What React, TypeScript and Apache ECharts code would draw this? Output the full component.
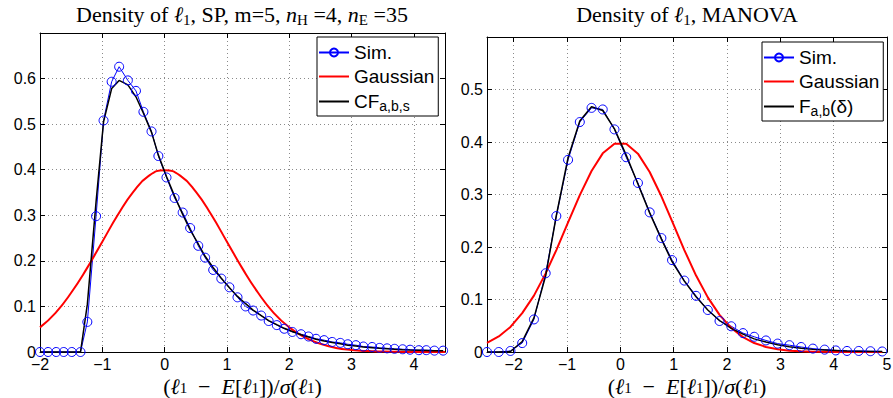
import React, { useEffect, useRef } from 'react';
import * as echarts from 'echarts';

// ---------- Left panel: SP, m=5, nH=4, nE=35 ----------
const simXL = [-2, -1.87, -1.74, -1.62, -1.49, -1.35, -1.24, -1.10, -0.98, -0.85, -0.73, -0.59, -0.46, -0.34, -0.21, -0.10, 0.03, 0.16, 0.29, 0.41, 0.54, 0.65, 0.78, 0.91, 1.04, 1.17, 1.30, 1.42, 1.55, 1.67, 1.80, 1.92, 2.05, 2.19, 2.31, 2.43, 2.56, 2.69, 2.82, 2.94, 3.07, 3.19, 3.33, 3.45, 3.57, 3.69, 3.82, 3.94, 4.08, 4.20, 4.33, 4.47];
const simYL = [0, 0, 0, 0, 0, 0, 0.066, 0.298, 0.508, 0.593, 0.626, 0.596, 0.573, 0.527, 0.484, 0.430, 0.383, 0.338, 0.306, 0.272, 0.233, 0.207, 0.180, 0.161, 0.142, 0.120, 0.100, 0.091, 0.080, 0.068, 0.059, 0.051, 0.044, 0.039, 0.034, 0.029, 0.026, 0.022, 0.020, 0.017, 0.015, 0.012, 0.011, 0.009, 0.008, 0.007, 0.006, 0.005, 0.004, 0.004, 0.003, 0.003];
const cfYL = [0, 0, 0, 0, 0, 0, 0.105, 0.330, 0.505, 0.578, 0.596, 0.586, 0.560, 0.524, 0.482, 0.432, 0.385, 0.342, 0.302, 0.268, 0.237, 0.210, 0.185, 0.162, 0.141, 0.122, 0.106, 0.092, 0.080, 0.069, 0.060, 0.052, 0.045, 0.038, 0.033, 0.028, 0.024, 0.021, 0.018, 0.015, 0.013, 0.011, 0.0095, 0.008, 0.007, 0.006, 0.005, 0.0045, 0.004, 0.0035, 0.003, 0.003];
const gaussXL = [-2, -1.75, -1.5, -1.25, -1, -0.75, -0.5, -0.25, 0, 0.25, 0.5, 0.75, 1, 1.25, 1.5, 1.75, 2, 2.25, 2.5, 2.75, 3, 3.25, 3.5, 3.75, 4, 4.25, 4.5];
const gaussYL = [0.054, 0.086, 0.130, 0.183, 0.242, 0.301, 0.352, 0.387, 0.399, 0.387, 0.352, 0.301, 0.242, 0.183, 0.130, 0.086, 0.054, 0.032, 0.018, 0.009, 0.0044, 0.002, 0.0009, 0.0004, 0.0001, 0, 0];

// ---------- Right panel: MANOVA ----------
const simXR = [-2.50, -2.28, -2.06, -1.84, -1.62, -1.40, -1.20, -0.98, -0.76, -0.54, -0.33, -0.11, 0.11, 0.33, 0.55, 0.77, 0.97, 1.20, 1.42, 1.64, 1.86, 2.08, 2.30, 2.51, 2.73, 2.95, 3.17, 3.39, 3.61, 3.83, 4.04, 4.25, 4.47, 4.69, 4.91];
const simYR = [0, 0, 0.002, 0.017, 0.062, 0.150, 0.259, 0.366, 0.438, 0.465, 0.462, 0.424, 0.371, 0.322, 0.266, 0.217, 0.175, 0.136, 0.107, 0.080, 0.059, 0.049, 0.036, 0.029, 0.022, 0.016, 0.013, 0.0095, 0.0065, 0.0045, 0.003, 0.002, 0.002, 0.0015, 0.001];
const fYR = [0, 0, 0.001, 0.020, 0.065, 0.145, 0.260, 0.370, 0.440, 0.467, 0.460, 0.425, 0.375, 0.320, 0.265, 0.215, 0.172, 0.135, 0.105, 0.080, 0.060, 0.045, 0.034, 0.025, 0.019, 0.014, 0.010, 0.007, 0.005, 0.004, 0.003, 0.002, 0.0015, 0.001, 0.001];
const gaussYR = [0.0175, 0.0297, 0.0478, 0.0741, 0.1074, 0.1497, 0.1942, 0.2468, 0.2989, 0.3448, 0.3784, 0.3967, 0.3965, 0.3778, 0.3429, 0.2966, 0.2492, 0.1942, 0.1456, 0.1040, 0.0707, 0.0459, 0.0283, 0.0171, 0.0096, 0.0051, 0.0026, 0.0013, 0.0006, 0.0003, 0.0001, 0, 0, 0, 0];

// ---------- Texts ----------
const titleLeft = '{r|Density of }{i|ℓ}{s|1}{r|, SP, m=5, }{i|n}{s|H}{r| =4, }{i|n}{s|E}{r| =35}';
const titleRight = '{r|Density of }{i|ℓ}{s|1}{r|, MANOVA}';
const xName = '{r|(}{i|ℓ}{s|1}{r|  −  }{i|E}{r|[}{i|ℓ}{s|1}{r|])/}{i|σ}{r|(}{i|ℓ}{s|1}{r|)}';
const legendNamesL = ['Sim.', 'Gaussian', 'CF'];
const legendNamesR = ['Sim.', 'Gaussian', 'Fab'];
const legendLabels: Record<string, string> = {
  'Sim.': '{n|Sim.}',
  Gaussian: '{n|Gaussian}',
  CF: '{n|CF}{s|a,b,s}',
  Fab: '{n|F}{s|a,b}{n|(δ)}',
};

const SANS = '"Liberation Sans", Arial, Helvetica, sans-serif';
const SERIF = '"Liberation Serif", "Times New Roman", serif';

const pairs = (xs: number[], ys: number[]) => xs.map((x, i) => [x, ys[i]]);

const serifRich = (fs: number) => ({
  r: { fontFamily: SERIF, fontSize: fs, fontWeight: 'normal', lineHeight: 26, color: '#000' },
  i: { fontFamily: SERIF, fontSize: fs, fontWeight: 'normal', fontStyle: 'italic', lineHeight: 26, color: '#000' },
  s: { fontFamily: SERIF, fontSize: Math.round(fs * 0.7), fontWeight: 'normal', lineHeight: 14, padding: [12, 0, 0, 0], verticalAlign: 'bottom', color: '#000' },
});

const nameRich = {
  r: { fontFamily: SERIF, fontSize: 22, fontWeight: 'normal', lineHeight: 18, color: '#000' },
  i: { fontFamily: SERIF, fontSize: 22, fontWeight: 'normal', fontStyle: 'italic', lineHeight: 18, color: '#000' },
  s: { fontFamily: SERIF, fontSize: 15, fontWeight: 'normal', lineHeight: 12, padding: [8, 0, 0, 0], verticalAlign: 'bottom', color: '#000' },
};

const xFmt = (v: number) => (Math.abs(v - Math.round(v)) < 1e-9 ? String(Math.round(v)).replace('-', '−') : '');
const yFmt = (v: number) => String(+v.toFixed(1));

function axesFor(gi: number, min: number, max: number, ymax: number, fixedInterval: boolean) {
  const xBase: any = {
    type: 'value', gridIndex: gi, min, max,
    axisLine: { show: true, onZero: false, lineStyle: { color: '#000', width: 1 } },
    axisTick: { show: true, inside: true, length: 5, lineStyle: { color: '#000' } },
  };
  if (fixedInterval) xBase.interval = 1; else { xBase.splitNumber = 8; xBase.minInterval = 1; xBase.maxInterval = 1; }
  const xs = [
    {
      ...xBase, position: 'bottom',
      axisLabel: { show: true, formatter: xFmt, margin: 4, fontFamily: SANS, fontSize: 16, color: '#000' },
      splitLine: { show: true, lineStyle: { color: '#8a8a8a', width: 1, type: [1, 3] } },
      name: xName, nameLocation: 'middle', nameGap: 25, nameMoveOverlap: false,
      nameTextStyle: { rich: nameRich },
    },
    { ...xBase, position: 'top', axisLabel: { show: false }, splitLine: { show: false } },
  ];
  const yBase: any = {
    type: 'value', gridIndex: gi, min: 0, max: ymax, interval: 0.1,
    axisLine: { show: true, onZero: false, lineStyle: { color: '#000', width: 1 } },
    axisTick: { show: true, inside: true, length: 5, lineStyle: { color: '#000' } },
  };
  const ys = [
    {
      ...yBase, position: 'left',
      axisLabel: { show: true, formatter: yFmt, showMaxLabel: false, margin: 4, fontFamily: SANS, fontSize: 16, color: '#000' },
      splitLine: { show: true, lineStyle: { color: '#8a8a8a', width: 1, type: [1, 3] } },
    },
    { ...yBase, position: 'right', axisLabel: { show: false }, splitLine: { show: false } },
  ];
  return { xs, ys };
}

const legendRich = {
  n: { fontFamily: SANS, fontSize: 19, lineHeight: 23, color: '#000' },
  s: { fontFamily: SANS, fontSize: 14, lineHeight: 14, padding: [10, 0, 0, 0], verticalAlign: 'bottom', color: '#000' },
};

const legendItems = (names: string[]) =>
  names.map((n) => (n === 'Sim.' ? { name: n } : { name: n, itemStyle: { opacity: 0 } }));

export default function App() {
  const ref = useRef<HTMLDivElement>(null);
  useEffect(() => {
    if (!ref.current) return;
    const chart = echarts.init(ref.current, undefined, { renderer: 'svg' });
    const L = axesFor(0, -2, 4.5, 0.7, true);
    const R = axesFor(1, -2.5, 5, 0.6, false);
    const legendCommon: any = {
      orient: 'vertical', backgroundColor: '#fff', borderColor: '#000', borderWidth: 1,
      padding: [4, 4, 3, 1], itemGap: 1, itemWidth: 30, itemHeight: 10, selectedMode: false,
      textStyle: { fontFamily: SANS, fontSize: 19, color: '#000', lineHeight: 23, rich: legendRich },
      formatter: (n: string) => legendLabels[n] || n,
    };
    const option: any = {
      animation: false,
      backgroundColor: '#fff',
      title: [
        { text: titleLeft, left: 242, top: 1, textAlign: 'center', padding: 0, textStyle: { fontWeight: 'normal', rich: serifRich(22) } },
        { text: titleRight, left: 687, top: 1, textAlign: 'center', padding: 0, textStyle: { fontWeight: 'normal', rich: serifRich(22) } },
      ],
      grid: [
        { left: 40, top: 33, width: 405, height: 319, show: false, containLabel: false, outerBoundsMode: 'none' },
        { left: 487, top: 37, width: 400, height: 315, show: false, containLabel: false, outerBoundsMode: 'none' },
      ],
      xAxis: [...L.xs, ...R.xs],
      yAxis: [...L.ys, ...R.ys],
      legend: [
        { ...legendCommon, left: 317, top: 37, data: legendItems(legendNamesL) },
        { ...legendCommon, left: 762, top: 42, data: legendItems(legendNamesR) },
      ],
      series: [
        {
          name: 'Sim.', type: 'line', xAxisIndex: 0, yAxisIndex: 0, data: pairs(simXL, simYL),
          symbol: 'circle', symbolSize: 9, showSymbol: true,
          lineStyle: { color: '#0000ff', width: 1 },
          itemStyle: { color: 'rgba(0,0,0,0)', borderColor: '#0000ff', borderWidth: 1 },
        },
        {
          name: 'Gaussian', type: 'line', xAxisIndex: 0, yAxisIndex: 0, data: pairs(gaussXL, gaussYL),
          smooth: true, symbol: 'none', lineStyle: { color: '#ff0000', width: 2 }, itemStyle: { color: '#ff0000' },
        },
        {
          name: 'CF', type: 'line', xAxisIndex: 0, yAxisIndex: 0, data: pairs(simXL, cfYL),
          symbol: 'none', lineStyle: { color: '#000', width: 1.5 }, itemStyle: { color: '#000' },
        },
        {
          name: 'Sim.', type: 'line', xAxisIndex: 2, yAxisIndex: 2, data: pairs(simXR, simYR),
          symbol: 'circle', symbolSize: 9, showSymbol: true,
          lineStyle: { color: '#0000ff', width: 1 },
          itemStyle: { color: 'rgba(0,0,0,0)', borderColor: '#0000ff', borderWidth: 1 },
        },
        {
          name: 'Gaussian', type: 'line', xAxisIndex: 2, yAxisIndex: 2, data: pairs(simXR, gaussYR),
          symbol: 'none', lineStyle: { color: '#ff0000', width: 2 }, itemStyle: { color: '#ff0000' },
        },
        {
          name: 'Fab', type: 'line', xAxisIndex: 2, yAxisIndex: 2, data: pairs(simXR, fYR),
          symbol: 'none', lineStyle: { color: '#000', width: 1.5 }, itemStyle: { color: '#000' },
        },
      ],
    };
    chart.setOption(option);
    return () => chart.dispose();
  }, []);
  return (
    <div
      ref={ref}
      style={{ position: 'fixed', left: 0, top: 0, width: 893, height: 398, background: '#fff' }}
    />
  );
}
